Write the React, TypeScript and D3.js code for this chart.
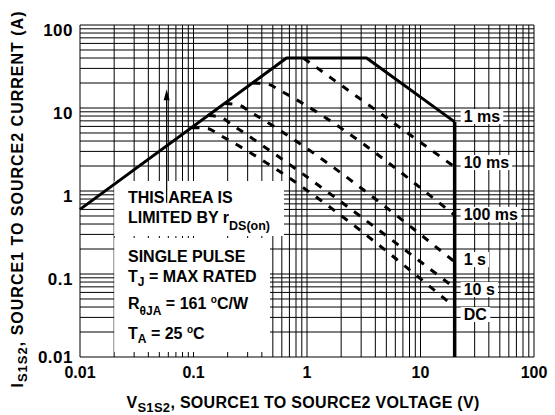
import React, { useEffect, useRef } from 'react';
import * as d3 from 'd3';

const X_TICKS = [0.01, 0.1, 1, 10, 100];
const X_TICK_LABELS = ['0.01', '0.1', '1', '10', '100'];
const Y_TICKS = [0.01, 0.1, 1, 10, 100];
const Y_TICK_LABELS = ['0.01', '0.1', '1', '10', '100'];

// solid boundary: rDS(on) limit -> package limit -> 1 ms -> BVDSS
const LIMIT_LINE: [number, number][] = [[0.01, 0.6], [0.66, 40], [3.35, 40], [20, 6.8]];
const BV_LINE: [number, number][] = [[20, 6.8], [20, 0.01]];

// dashed pulse curves [V, A]
const CURVE_10MS: [number, number][] = [[0.93, 40], [20, 1.95]];
const CURVE_100MS: [number, number][] = [[0.334, 20], [0.45, 19.4], [0.58, 16.2], [20, 0.51]];
const CURVE_1S: [number, number][] = [[0.189, 11.3], [0.245, 11.0], [0.315, 9.0], [20, 0.14]];
const CURVE_10S: [number, number][] = [[0.135, 8.1], [0.172, 7.8], [0.214, 6.4], [20, 0.068]];
const CURVE_DC: [number, number][] = [[0.097, 5.8], [0.131, 5.7], [0.171, 4.7], [20, 0.04]];
const CURVES = [CURVE_10MS, CURVE_100MS, CURVE_1S, CURVE_10S, CURVE_DC];

const LABELS = ['1 ms', '10 ms', '100 ms', '1 s', '10 s', 'DC'];
const LABEL_AT = [6.78, 1.89, 0.448, 0.128, 0.0558, 0.0279]; // amps, label baseline

const FONT = '"Liberation Sans", Arial, Helvetica, sans-serif';

function App() {
  const svgRef = useRef<SVGSVGElement>(null);

  useEffect(() => {
    const W = 555, H = 415;
    const margin = { top: 25, right: 21, bottom: 58, left: 80 };
    const svg = d3.select(svgRef.current);
    svg.selectAll('*').remove();

    const x = d3.scaleLog().domain([0.01, 100]).range([margin.left, W - margin.right]);
    const y = d3.scaleLog().domain([0.01, 100]).range([H - margin.bottom, margin.top]);

    // log grid
    const gridVals: number[] = [];
    for (let e = -2; e < 2; e++) {
      for (let i = 1; i < 10; i++) gridVals.push(+(i * Math.pow(10, e)).toPrecision(2));
    }
    gridVals.push(100);

    const grid = svg.append('g').attr('stroke', '#000').attr('stroke-width', 1);
    grid.selectAll('line.v').data(gridVals).join('line')
      .attr('class', 'v')
      .attr('x1', d => x(d)).attr('x2', d => x(d))
      .attr('y1', y(0.01)).attr('y2', y(100));
    grid.selectAll('line.h').data(gridVals).join('line')
      .attr('class', 'h')
      .attr('y1', d => y(d)).attr('y2', d => y(d))
      .attr('x1', x(0.01)).attr('x2', x(100));

    // white box behind the note
    const boxL = x(0.02);
    svg.append('rect').attr('x', boxL).attr('y', 181).attr('width', 284 - boxL).attr('height', 55).attr('fill', '#fff');
    svg.append('rect').attr('x', boxL).attr('y', 238).attr('width', 270 - boxL).attr('height', 114).attr('fill', '#fff');

    const line = d3.line<[number, number]>().x(d => x(d[0])).y(d => y(d[1]));
    const curve = d3.line<[number, number]>().x(d => x(d[0])).y(d => y(d[1])).curve(d3.curveMonotoneX);

    // dashed curves
    svg.append('g')
      .selectAll('path')
      .data(CURVES)
      .join('path')
      .attr('d', d => curve(d))
      .attr('fill', 'none')
      .attr('stroke', '#000')
      .attr('stroke-width', 3)
      .attr('stroke-dasharray', '7.5 8.5');

    // solid boundary
    svg.append('path').attr('d', line(LIMIT_LINE)).attr('fill', 'none')
      .attr('stroke', '#000').attr('stroke-width', 3).attr('stroke-linejoin', 'round');
    svg.append('path').attr('d', line(BV_LINE)).attr('fill', 'none')
      .attr('stroke', '#000').attr('stroke-width', 3.5);

    // arrow
    const ax = x(0.058);
    svg.append('line').attr('x1', ax).attr('x2', ax).attr('y1', y(0.72)).attr('y2', y(14))
      .attr('stroke', '#000').attr('stroke-width', 1.2);
    const tip = y(16.8);
    svg.append('path')
      .attr('d', `M${ax},${tip}L${ax - 3},${tip + 11}L${ax + 3},${tip + 11}Z`)
      .attr('fill', '#000');

    const txt = (px: number, py: number, size = 16) =>
      svg.append('text').attr('x', px).attr('y', py)
        .attr('font-family', FONT).attr('font-weight', 'bold').attr('font-size', size).attr('fill', '#000');

    // note text
    const nx = 128;
    txt(nx, 203).text('THIS AREA IS');
    const l2 = txt(nx, 223);
    l2.append('tspan').text('LIMITED BY r');
    l2.append('tspan').attr('font-size', 12.5).attr('dy', 7).text('DS(on)');
    txt(nx, 262).text('SINGLE PULSE');
    const l4 = txt(nx, 282);
    l4.append('tspan').text('T');
    l4.append('tspan').attr('font-size', 12).attr('dy', 4).text('J');
    l4.append('tspan').attr('dy', -4).text(' = MAX RATED');
    const l5 = txt(nx, 309);
    l5.append('tspan').text('R');
    l5.append('tspan').attr('font-size', 12).attr('dy', 6).text('θJA');
    l5.append('tspan').attr('dy', -6).text(' = 161 ');
    l5.append('tspan').attr('font-size', 10).attr('dy', -6).text('o');
    l5.append('tspan').attr('dy', 6).text('C/W');
    const l6 = txt(nx, 339);
    l6.append('tspan').text('T');
    l6.append('tspan').attr('font-size', 12).attr('dy', 4).text('A');
    l6.append('tspan').attr('dy', -4).text(' = 25 ');
    l6.append('tspan').attr('font-size', 10).attr('dy', -6).text('o');
    l6.append('tspan').attr('dy', 6).text('C');

    // curve labels with white backing
    LABELS.forEach((t, i) => {
      const el = txt(x(20) + 9, y(LABEL_AT[i])).text(t);
      const b = (el.node() as SVGTextElement).getBBox();
      svg.insert('rect', () => el.node())
        .attr('x', b.x - 3).attr('y', b.y + 1)
        .attr('width', b.width + 6).attr('height', b.height - 2)
        .attr('fill', '#fff');
    });

    // tick labels
    X_TICKS.forEach((v, i) => {
      txt(x(v), 378, 16).attr('text-anchor', 'middle').text(X_TICK_LABELS[i]);
    });
    Y_TICKS.forEach((v, i) => {
      txt(73, Math.min(y(v) + 11, 363), 17).attr('text-anchor', 'end')
        .attr('letter-spacing', 0.5).text(Y_TICK_LABELS[i]);
    });

    // axis titles
    const xt = txt(303, 408, 16).attr('text-anchor', 'middle').attr('letter-spacing', 0.3);
    xt.append('tspan').text('V');
    xt.append('tspan').attr('font-size', 13).attr('dy', 4).text('S1S2');
    xt.append('tspan').attr('dy', -4).text(', SOURCE1 TO SOURCE2 VOLTAGE (V)');

    const yt = txt(0, 0, 16).attr('text-anchor', 'middle').attr('letter-spacing', 1)
      .attr('transform', 'translate(23,199) rotate(-90)');
    yt.append('tspan').text('I');
    yt.append('tspan').attr('font-size', 13).attr('dy', 4).text('S1S2');
    yt.append('tspan').attr('dy', -4).text(', SOURCE1 TO SOURCE2 CURRENT (A)');
  }, []);

  return (
    <svg
      ref={svgRef}
      width={555}
      height={415}
      style={{ position: 'absolute', left: 0, top: 0, background: '#fff' }}
    />
  );
}

export default App;
